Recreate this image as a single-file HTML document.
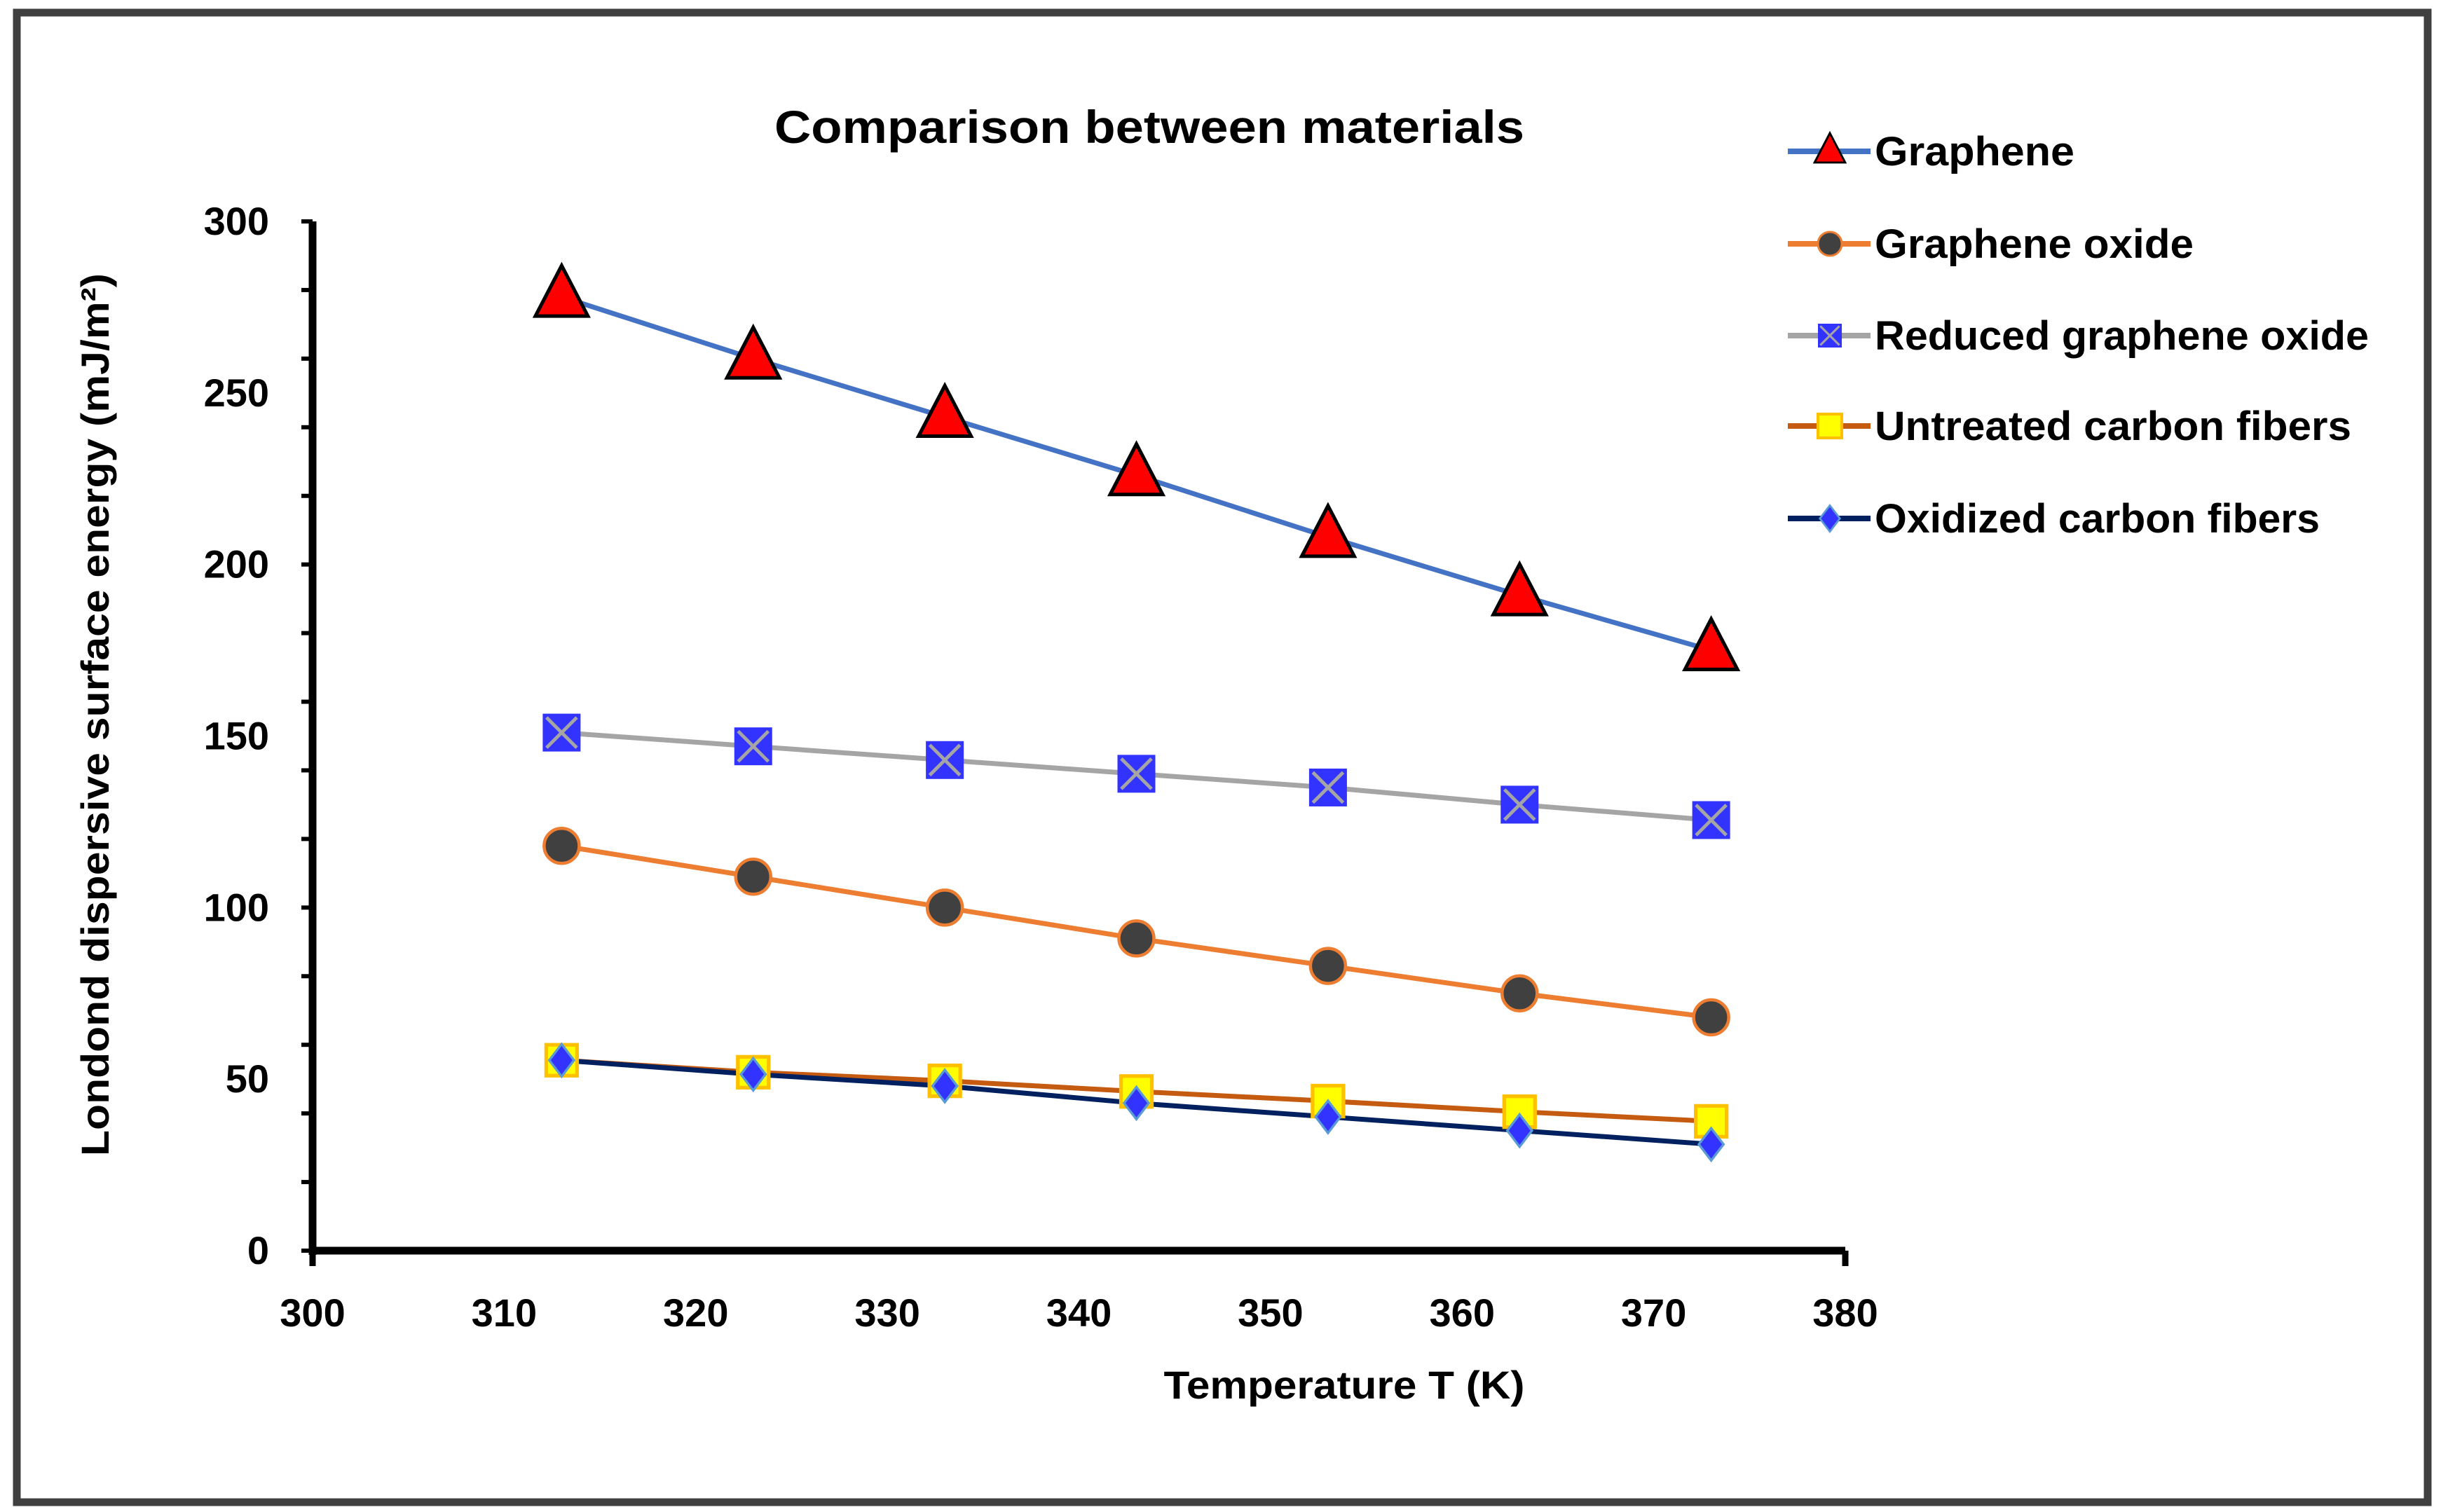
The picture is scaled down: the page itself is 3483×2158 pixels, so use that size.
<!DOCTYPE html>
<html><head><meta charset="utf-8"><style>
html,body{margin:0;padding:0;background:#fff}
svg{display:block}
text{font-family:"Liberation Sans",sans-serif;font-weight:bold;fill:#000}
</style></head><body>
<svg id="chart" width="3483" height="2158" viewBox="0 0 3483 2158" xmlns="http://www.w3.org/2000/svg">
<rect x="0" y="0" width="3483" height="2158" fill="#fff"/>
<rect x="24" y="18" width="3440" height="2126" fill="none" stroke="#404040" stroke-width="11"/>
<text x="1640" y="204" font-size="66" text-anchor="middle" textLength="1070" lengthAdjust="spacingAndGlyphs">Comparison between materials</text>
<g id="axes"></g>
<g id="series"></g>
<g id="legend"></g>
<text x="1918" y="1996" font-size="56" text-anchor="middle" textLength="515" lengthAdjust="spacingAndGlyphs">Temperature T (K)</text>
<text transform="translate(155,1020) rotate(-90)" font-size="56" text-anchor="middle" textLength="1260" lengthAdjust="spacingAndGlyphs">Londond dispersive surface energy (mJ/m²)</text>
</svg>
<script>
const temps = [313, 323, 333, 343, 353, 363, 373];
const graphene = [278, 260, 243, 226, 208, 191, 175];
const grapheneOxide = [118, 109, 100, 91, 83, 75, 68];
const reducedGO = [151, 147, 143, 139, 135, 130, 125.5];
const untreatedCF = [55.5, 52, 49.5, 46.4, 43.6, 40.5, 37.7];
const oxidizedCF = [55.5, 51.4, 48, 43, 39, 35, 31];
const xTicks = [300, 310, 320, 330, 340, 350, 360, 370, 380];
const yTicks = [0, 50, 100, 150, 200, 250, 300];
const seriesNames = ["Graphene", "Graphene oxide", "Reduced graphene oxide", "Untreated carbon fibers", "Oxidized carbon fibers"];

const NS = "http://www.w3.org/2000/svg";
const X0 = 446, X1 = 2633, Y0 = 1785, Y1 = 316;
function xs(v){ return X0 + (v - 300) / 80 * (X1 - X0); }
function ys(v){ return Y0 - v / 300 * (Y0 - Y1); }
function mk(tag, attrs, parent){
  const e = document.createElementNS(NS, tag);
  for (const k in attrs) e.setAttribute(k, attrs[k]);
  parent.appendChild(e);
  return e;
}
const axes = document.getElementById("axes");
const series = document.getElementById("series");
const legend = document.getElementById("legend");

let yl = mk("line", {x1: X0, y1: ys(300), x2: X0, y2: Y0 + 6, stroke: "#000", "stroke-width": 11}, axes);


let xl = mk("line", {x1: X0 - 5, y1: Y0, x2: X1, y2: Y0, stroke: "#000", "stroke-width": 11}, axes);


for (let v = 0; v <= 300; v += 20) {
  const t = mk("line", {x1: X0 - 16, y1: ys(v), x2: X0, y2: ys(v), stroke: "#000", "stroke-width": 6}, axes);
  
  
}
[300, 380].forEach(v => {
  const t = mk("line", {x1: xs(v), y1: Y0, x2: xs(v), y2: Y0 + 22, stroke: "#000", "stroke-width": 9}, axes);
  
  
});
yTicks.forEach(v => {
  const t = mk("text", {x: X0 - 62, y: ys(v) + 19, "font-size": 56, "text-anchor": "end"}, axes);
  t.textContent = v;
  
  
});
xTicks.forEach(v => {
  const t = mk("text", {x: xs(v), y: 1893, "font-size": 56, "text-anchor": "middle"}, axes);
  t.textContent = v;
  
  
});

function marker(type, cx, cy, s, parent){
  let g = mk("g", {}, parent);
  if (type === "tri") {
    mk("polygon", {points: `${cx},${cy - s*0.62} ${cx + s*0.52},${cy + s*0.38} ${cx - s*0.52},${cy + s*0.38}`, fill: "#f00", stroke: "#000", "stroke-width": s*0.07, "stroke-linejoin": "miter"}, g);
  } else if (type === "circ") {
    mk("circle", {cx: cx, cy: cy, r: s/2, fill: "#404040", stroke: "#ed7d31", "stroke-width": s*0.09}, g);
  } else if (type === "xsq") {
    mk("rect", {x: cx - s/2, y: cy - s/2, width: s, height: s, fill: "#3333ff"}, g);
    mk("path", {d: `M${cx - s*0.4},${cy - s*0.4}L${cx + s*0.4},${cy + s*0.4}M${cx + s*0.4},${cy - s*0.4}L${cx - s*0.4},${cy + s*0.4}`, stroke: "#a5a5a5", "stroke-width": s*0.09}, g);
  } else if (type === "ysq") {
    mk("rect", {x: cx - s/2, y: cy - s/2, width: s, height: s, fill: "#ffff00", stroke: "#ffc000", "stroke-width": s*0.12}, g);
  } else if (type === "dia") {
    mk("polygon", {points: `${cx},${cy - s*0.55} ${cx + s*0.42},${cy} ${cx},${cy + s*0.55} ${cx - s*0.42},${cy}`, fill: "#3333ff", stroke: "#5b9bd5", "stroke-width": s*0.08}, g);
  }
  return g;
}

const defs = [
  {vals: graphene, color: "#4472c4", m: "tri", s: 72, ls: 42},
  {vals: grapheneOxide, color: "#ed7d31", m: "circ", s: 50, ls: 34},
  {vals: reducedGO, color: "#a5a5a5", m: "xsq", s: 54, ls: 34},
  {vals: untreatedCF, color: "#c55a11", m: "ysq", s: 44, ls: 34},
  {vals: oxidizedCF, color: "#002060", m: "dia", s: 42, ls: 34}
];
const slugs = ["graphene", "graphene-oxide", "reduced-graphene-oxide", "untreated-carbon-fibers", "oxidized-carbon-fibers"];
defs.forEach((d, i) => {
  const pts = temps.map((t, j) => xs(t) + "," + ys(d.vals[j])).join(" ");
  const pl = mk("polyline", {points: pts, fill: "none", stroke: d.color, "stroke-width": 7}, series);
  
  
});
defs.forEach((d, i) => {
  temps.forEach((t, j) => {
    const g = marker(d.m, xs(t), ys(d.vals[j]), d.s, series);
    
    
  });
});

const LY = [216, 348, 479, 608, 740];
const LW = [285, 455, 705, 680, 635];
defs.forEach((d, i) => {
  const g = mk("g", {}, legend);
  
  
  mk("line", {x1: 2551, y1: LY[i], x2: 2669, y2: LY[i], stroke: d.color, "stroke-width": 8}, g);
  marker(d.m, 2611, LY[i], d.ls, g);
  const t = mk("text", {x: 2675, y: LY[i] + 20, "font-size": 58, textLength: LW[i], lengthAdjust: "spacingAndGlyphs"}, g);
  t.textContent = seriesNames[i];
});
</script>
</body></html>
